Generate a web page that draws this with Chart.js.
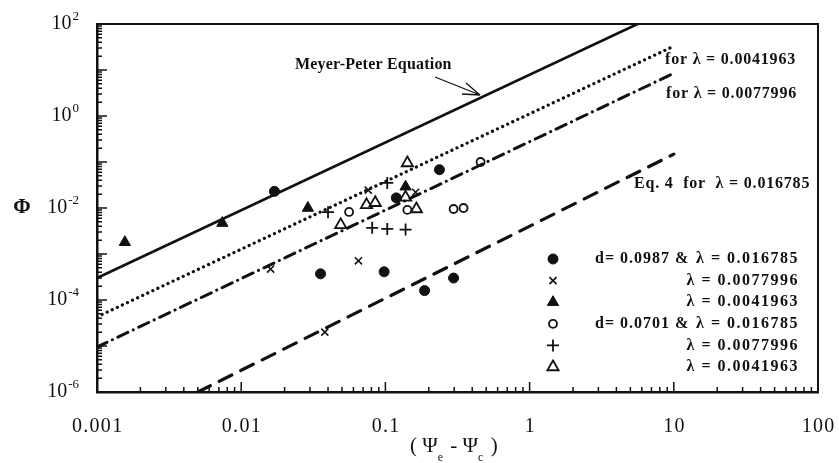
<!DOCTYPE html>
<html>
<head>
<meta charset="utf-8">
<script src="https://cdn.jsdelivr.net/npm/chart.js@4.4.1/dist/chart.umd.min.js"></script>
<style>
html, body { margin: 0; padding: 0; background: #fff; }
#wrap { width: 839px; height: 463px; }
</style>
</head>
<body>
<div id="wrap"><canvas id="chart"></canvas></div>
<script>
const xTicks = [0.001, 0.01, 0.1, 1, 10, 100];
const xTickLabels = ['0.001', '0.01', '0.1', '1', '10', '100'];
const yTicks = [1e-6, 1e-4, 1e-2, 1, 100];
const yTickExps = ['-6', '-4', '-2', '0', '2'];

// straight lines on log-log axes, read as two end points
const meyerX = [0.001, 5.6];
const meyerY = [3.0e-4, 100];
const lamAX = [0.001, 10];     // for λ = 0.0041963
const lamAY = [4.3e-5, 33];
const lamBX = [0.001, 10];     // for λ = 0.0077996
const lamBY = [9.5e-6, 8.5];
const eq4X = [0.005, 10];      // Eq. 4 for λ = 0.016785
const eq4Y = [1e-6, 0.148];

// d = 0.0987
const circX = [0.017, 0.0355, 0.098, 0.187, 0.297, 0.237, 0.119];
const circY = [0.023, 3.7e-4, 4.1e-4, 1.6e-4, 3.0e-4, 0.068, 0.0166];
const crossX = [0.016, 0.065, 0.038, 0.076, 0.162];
const crossY = [4.7e-4, 7.1e-4, 2.0e-5, 0.0245, 0.022];
const triX = [0.00156, 0.0074, 0.029, 0.138];
const triY = [1.8e-3, 4.7e-3, 0.010, 0.029];
// d = 0.0701
const ocircX = [0.056, 0.142, 0.297, 0.348, 0.457];
const ocircY = [8.2e-3, 9.1e-3, 9.5e-3, 0.010, 0.10];
const plusX = [0.040, 0.103, 0.081, 0.103, 0.138];
const plusY = [8.1e-3, 0.035, 3.7e-3, 3.5e-3, 3.4e-3];
const otriX = [0.049, 0.074, 0.085, 0.142, 0.164, 0.138];
const otriY = [4.3e-3, 0.0117, 0.013, 0.095, 0.0095, 0.017];

const legendLeft = ['d= 0.0987 &', '', '', 'd= 0.0701 &', '', ''];
const legendRight = ['λ = 0.016785', 'λ = 0.0077996', 'λ = 0.0041963', 'λ = 0.016785', 'λ = 0.0077996', 'λ = 0.0041963'];

const pts = (xs, ys) => xs.map((x, i) => ({x: x, y: ys[i]}));
const SERIF = '"Liberation Serif", "DejaVu Serif", serif';
Chart.defaults.font.family = SERIF;
Chart.defaults.color = '#111';

function lineSet(xs, ys, dash, width) {
    return {
        data: pts(xs, ys), showLine: true, pointRadius: 0, borderColor: '#111',
        borderWidth: width, borderDash: dash, borderCapStyle: 'round', fill: false, isLine: true
    };
}
function markSet(xs, ys, style, radius, fill, bw) {
    return {
        data: pts(xs, ys), showLine: false, pointStyle: style, pointRadius: radius,
        pointBackgroundColor: fill, pointBorderColor: '#111', pointBorderWidth: bw
    };
}

const datasets = [
    lineSet(meyerX, meyerY, [], 2.6),
    lineSet(lamAX, lamAY, [0.1, 5.5], 3.2),
    lineSet(lamBX, lamBY, [11, 6, 0.1, 6], 3),
    lineSet(eq4X, eq4Y, [14, 10], 3.2),
    markSet(circX, circY, 'circle', 5, '#111', 1),
    markSet(crossX, crossY, 'crossRot', 5, '#111', 1.6),
    markSet(triX, triY, 'triangle', 6.5, '#111', 1),
    markSet(ocircX, ocircY, 'circle', 4, '#fff', 1.8),
    markSet(plusX, plusY, 'cross', 6, '#111', 1.8),
    markSet(otriX, otriY, 'triangle', 6.5, '#fff', 1.8)
];

function text(ctx, str, x, y, font, spacing, align) {
    ctx.font = font;
    ctx.letterSpacing = spacing + 'px';
    ctx.textAlign = align || 'left';
    ctx.fillText(str, x, y);
    ctx.letterSpacing = '0px';
}

const decor = {
    id: 'decor',
    afterDatasetsDraw(chart) {
        const {ctx, chartArea: a, scales: {x, y}} = chart;
        ctx.save();
        ctx.strokeStyle = '#111';
        ctx.fillStyle = '#111';
        ctx.textBaseline = 'middle';
        // frame top and right
        ctx.lineWidth = 2;
        ctx.beginPath();
        ctx.moveTo(a.left, a.top); ctx.lineTo(a.right, a.top); ctx.lineTo(a.right, a.bottom);
        ctx.stroke();
        // inward ticks
        ctx.lineWidth = 1.5;
        ctx.beginPath();
        for (let e = -3; e <= 2; e++) {
            for (let m = 1; m < 10; m++) {
                if (e === 2 && m > 1) break;
                const px = x.getPixelForValue(m * Math.pow(10, e));
                const len = m === 1 ? 10 : 5;
                ctx.moveTo(px, a.bottom); ctx.lineTo(px, a.bottom - len);
            }
        }
        for (let e = -6; e <= 2; e++) {
            for (let m = 1; m < 10; m++) {
                if (e === 2 && m > 1) break;
                const py = y.getPixelForValue(m * Math.pow(10, e));
                const len = m === 1 ? 10 : 5;
                ctx.moveTo(a.left, py); ctx.lineTo(a.left + len, py);
            }
        }
        ctx.stroke();

        // tick labels
        x.ticks.forEach(t => {
            const i = xTicks.indexOf(t.value);
            if (i >= 0) text(ctx, xTickLabels[i], x.getPixelForValue(t.value) + 0.7, 427, '20px ' + SERIF, 1.3, 'center');
        });
        y.ticks.forEach(t => {
            const i = yTicks.indexOf(t.value);
            if (i < 0) return;
            const py = y.getPixelForValue(t.value);
            ctx.font = '13px ' + SERIF;
            const ew = ctx.measureText(yTickExps[i]).width;
            text(ctx, yTickExps[i], 79, py - 7, '13px ' + SERIF, 0, 'right');
            text(ctx, '10', 79 - ew - 1, py, '20px ' + SERIF, 0, 'right');
        });

        // line labels
        const bold = 'bold 16px ' + SERIF;
        text(ctx, 'Meyer-Peter Equation', 295, 65, bold, 0.2);
        text(ctx, 'for λ = 0.0041963', 665, 60, bold, 0.8);
        text(ctx, 'for λ = 0.0077996', 666, 94, bold, 0.8);
        text(ctx, 'Eq. 4  for  λ = 0.016785', 634, 184, bold, 0.8);

        // arrow to Meyer-Peter line
        ctx.lineWidth = 1.3;
        ctx.beginPath();
        ctx.moveTo(435, 77); ctx.lineTo(480, 95);
        ctx.moveTo(480, 95); ctx.lineTo(466, 83);
        ctx.moveTo(480, 95); ctx.lineTo(462, 94);
        ctx.stroke();

        // legend
        const markers = chart.data.datasets.filter(d => !d.isLine);
        markers.forEach((d, i) => {
            const ry = 259 + i * 21.6;
            ctx.fillStyle = d.pointBackgroundColor;
            ctx.strokeStyle = '#111';
            ctx.lineWidth = d.pointBorderWidth;
            Chart.helpers.drawPoint(ctx, {pointStyle: d.pointStyle, radius: d.pointRadius, rotation: 0, borderWidth: d.pointBorderWidth}, 553, ry);
            ctx.fillStyle = '#111';
            if (legendLeft[i]) text(ctx, legendLeft[i], 595, ry, bold, 1);
            text(ctx, legendRight[i], 799, ry, bold, 1.5, 'right');
        });

        // axis titles
        text(ctx, 'Φ', 22, 208, 'bold 21px ' + SERIF, 0, 'center');
        let cx = 410;
        const parts = [['(', 0], [' Ψ', 0], ['e', 1], [' - ', 0], ['Ψ', 0], ['c', 1], [' )', 0]];
        parts.forEach(([t, sub]) => {
            ctx.font = (sub ? '12px ' : '21px ') + SERIF;
            ctx.textAlign = 'left';
            ctx.fillText(t, cx, sub ? 458 : 446);
            cx += ctx.measureText(t).width + (sub ? 2 : 0);
        });
        ctx.restore();
    }
};

new Chart(document.getElementById('chart'), {
    type: 'scatter',
    data: {datasets: datasets},
    options: {
        responsive: true,
        maintainAspectRatio: false,
        animation: false,
        layout: {padding: {top: 24, right: 21, left: 0, bottom: 0}},
        plugins: {legend: {display: false}, tooltip: {enabled: false}},
        scales: {
            x: {
                type: 'logarithmic', min: 0.001, max: 100,
                grid: {display: false, drawTicks: false},
                border: {display: true, color: '#111', width: 2.5},
                afterBuildTicks: s => { s.ticks = xTicks.map(v => ({value: v})); },
                afterFit: s => { s.height = 71; },
                ticks: {display: false}
            },
            y: {
                type: 'logarithmic', min: 1e-6, max: 100,
                grid: {display: false, drawTicks: false},
                border: {display: true, color: '#111', width: 2.5},
                afterBuildTicks: s => { s.ticks = yTicks.map(v => ({value: v})); },
                afterFit: s => { s.width = 97; },
                ticks: {display: false}
            }
        }
    },
    plugins: [decor]
});
</script>
</body>
</html>
